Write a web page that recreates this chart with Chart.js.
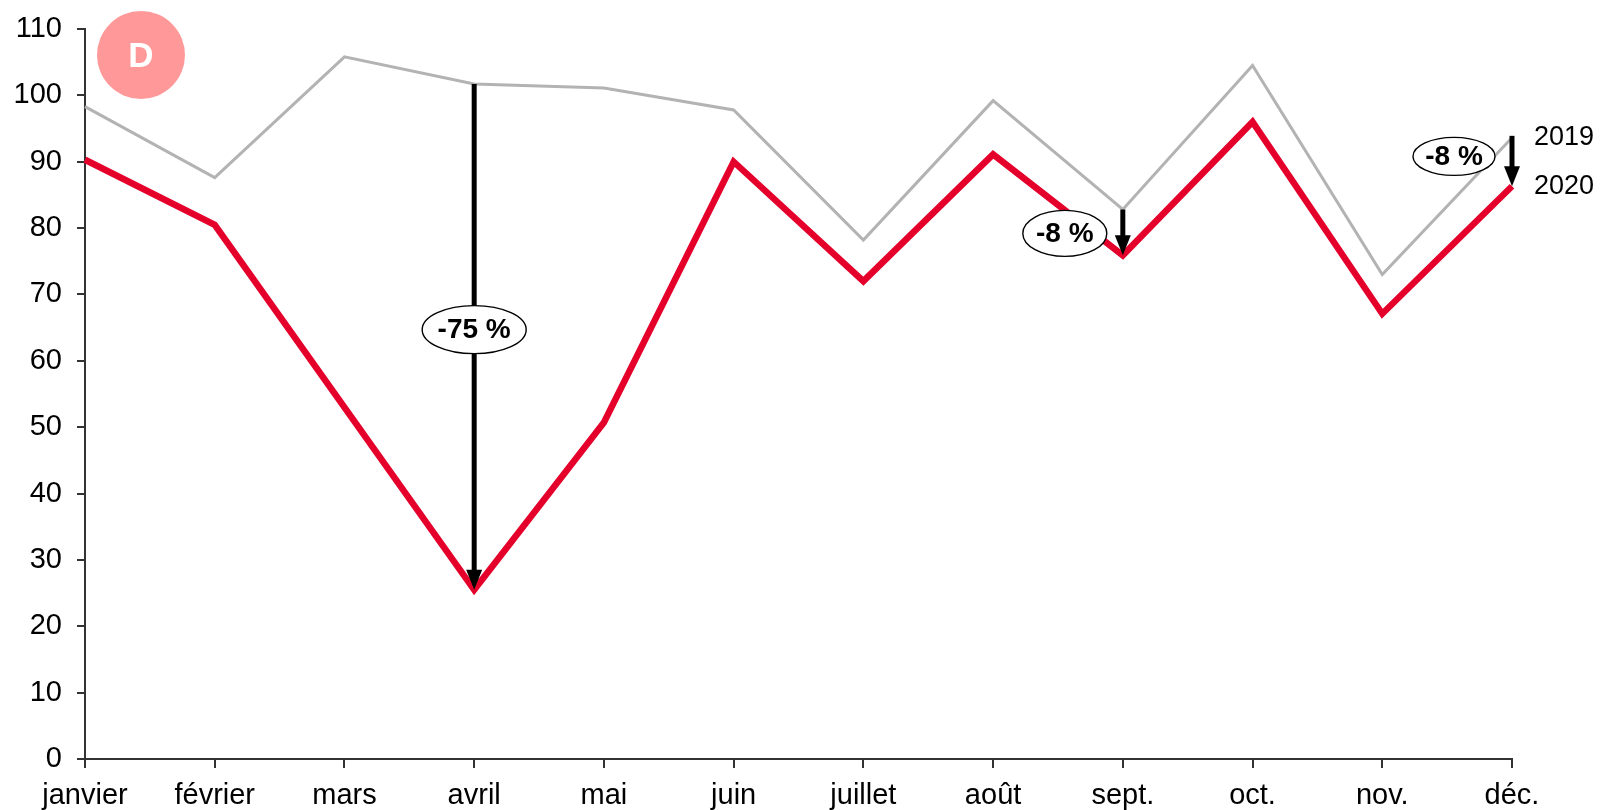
<!DOCTYPE html>
<html>
<head>
<meta charset="utf-8">
<script src="https://cdn.jsdelivr.net/npm/chart.js@4/dist/chart.umd.min.js"></script>
<style>
  html, body { margin: 0; padding: 0; background: #fff; overflow: hidden; }
  #wrap { width: 1600px; height: 810px; }
  canvas { display: block; }
</style>
</head>
<body>
<div id="wrap"><canvas id="chart" width="1600" height="810"></canvas></div>
<script>
// données
const months = ['janvier', 'février', 'mars', 'avril', 'mai', 'juin', 'juillet', 'août', 'sept.', 'oct.', 'nov.', 'déc.'];
const values2019 = [98.3, 87.6, 105.8, 101.7, 101.1, 97.8, 78.2, 99.2, 82.8, 104.5, 73.0, 93.6];
const values2020 = [90.3, 80.5, 53.0, 25.5, 50.7, 90.0, 72.0, 91.1, 75.9, 96.0, 67.1, 86.3];
const yTicks = [0, 10, 20, 30, 40, 50, 60, 70, 80, 90, 100, 110];
const seriesNames = ['2019', '2020'];
const variations = ['-75 %', '-8 %', '-8 %'];
const variationMonths = ['avril', 'sept.', 'déc.'];
const badgeText = 'D';

const FONT = 'Liberation Sans, Arial, sans-serif';

// flèches + étiquettes
const arrowsPlugin = {
    id: 'arrows',
    afterDatasetsDraw(chart) {
        const c = chart.ctx;
        const x = chart.scales.x, y = chart.scales.y;

        // pastille D
        c.save();
        c.fillStyle = '#ff9999';
        c.beginPath();
        c.arc(141, 55, 44, 0, Math.PI * 2);
        c.fill();
        c.fillStyle = '#fff';
        c.font = 'bold 35px ' + FONT;
        c.textAlign = 'center';
        c.textBaseline = 'middle';
        c.fillText(badgeText, 141, 57);
        c.restore();

        // réglages des étiquettes (décalage, taille ellipse)
        const labelPos = [
            { dx: 0, rx: 52, ry: 24, midVal: 64.7 },
            { dx: -58, rx: 42, ry: 23, midVal: 79.2 },
            { dx: -58, rx: 41, ry: 19, midVal: 90.8 }
        ];

        variationMonths.forEach((m, i) => {
            const idx = months.indexOf(m);
            const px = x.getPixelForValue(idx);
            const y0 = y.getPixelForValue(values2019[idx]);
            const y1 = y.getPixelForValue(values2020[idx]);
            const top = i === 2 ? y0 - 2 : y0;

            c.save();
            c.strokeStyle = '#000';
            c.fillStyle = '#000';
            c.lineWidth = 5;
            c.beginPath();
            c.moveTo(px, top);
            c.lineTo(px, y1 - 18);
            c.stroke();
            c.beginPath();
            c.moveTo(px - 8, y1 - 20);
            c.lineTo(px + 8, y1 - 20);
            c.lineTo(px, y1);
            c.closePath();
            c.fill();

            const lp = labelPos[i];
            const lx = px + lp.dx;
            const ly = y.getPixelForValue(lp.midVal);
            c.fillStyle = '#fff';
            c.lineWidth = 1.4;
            c.beginPath();
            c.ellipse(lx, ly, lp.rx, lp.ry, 0, 0, Math.PI * 2);
            c.fill();
            c.stroke();
            c.fillStyle = '#000';
            c.font = 'bold 28px ' + FONT;
            c.textAlign = 'center';
            c.textBaseline = 'middle';
            c.fillText(variations[i], lx, ly + 1);
            c.restore();
        });

        // noms des séries à droite
        c.save();
        c.fillStyle = '#000';
        c.font = '27px ' + FONT;
        c.textAlign = 'left';
        c.textBaseline = 'middle';
        c.fillText(seriesNames[0], x.right + 22, 138);
        c.fillText(seriesNames[1], x.right + 22, 187);
        c.restore();
    }
};

const chart = new Chart(document.getElementById('chart'), {
    type: 'line',
    data: {
        labels: months,
        datasets: [
            {
                label: seriesNames[0],
                data: values2019,
                borderColor: '#b3b3b3',
                borderWidth: 3,
                pointRadius: 0,
                tension: 0,
                order: 2
            },
            {
                label: seriesNames[1],
                data: values2020,
                borderColor: '#e4002b',
                borderWidth: 6.5,
                pointRadius: 0,
                tension: 0,
                borderJoinStyle: 'miter',
                order: 1
            }
        ]
    },
    options: {
        responsive: false,
        animation: false,
        devicePixelRatio: 1,
        layout: { padding: { top: 29, right: 88, left: 0, bottom: 0 } },
        plugins: { legend: { display: false }, tooltip: { enabled: false } },
        scales: {
            x: {
                offset: false,
                grid: { drawOnChartArea: false, color: '#333', tickLength: 9, lineWidth: 2 },
                border: { color: '#333', width: 2 },
                ticks: { color: '#000', font: { family: FONT, size: 29 }, maxRotation: 0, autoSkip: false, padding: 11 },
                afterFit(s) { s.height = 51; s.paddingLeft = 0; s.paddingRight = 0; }
            },
            y: {
                min: 0,
                max: 110,
                afterBuildTicks(s) { s.ticks = yTicks.map(v => ({ value: v })); },
                grid: { drawOnChartArea: false, color: '#333', tickLength: 8, lineWidth: 2 },
                border: { color: '#333', width: 2 },
                ticks: { color: '#000', font: { family: FONT, size: 29 }, padding: 15 },
                afterFit(s) { s.width = 85; s.paddingTop = 0; s.paddingBottom = 0; }
            }
        }
    },
    plugins: [arrowsPlugin]
});
</script>
</body>
</html>
